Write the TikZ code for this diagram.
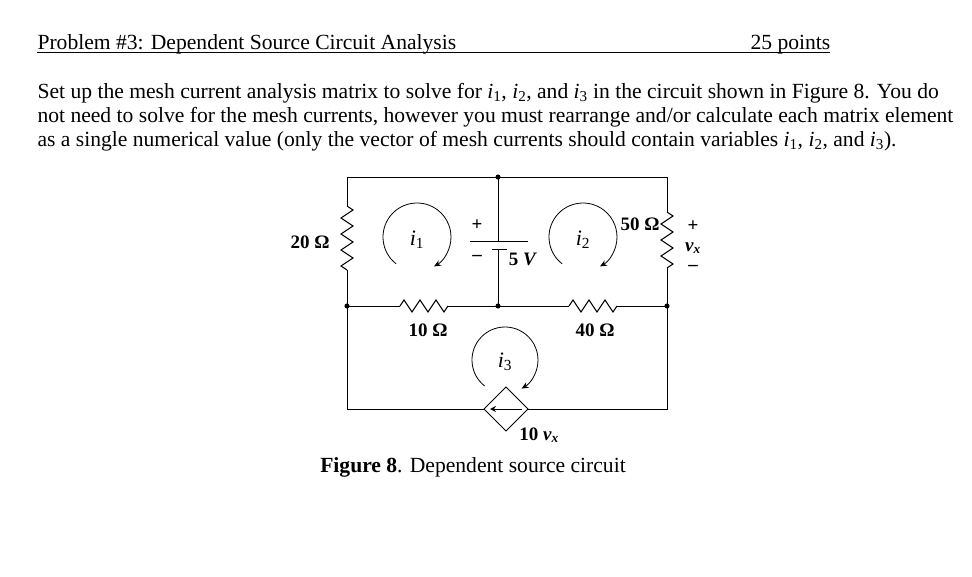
\documentclass[tikz,border=0pt]{standalone}
\usepackage{fontspec}
\setmainfont{Liberation Serif}
\usetikzlibrary{decorations.pathmorphing,arrows.meta}

\newcommand{\cur}[1]{\textit{i}\textsubscript{#1}}
\newcommand{\vxx}{\textit{v}\textsubscript{\textit{x}}}

\tikzset{
	res/.style={decorate, decoration={zigzag, segment length=16pt, amplitude=6pt}},
	lbl/.style={font=\bfseries\fontsize{19}{21}\selectfont},
	txt/.style={anchor=base west, inner sep=0pt, font=\fontsize{21.6}{24}\selectfont},
	loop/.style={-{Stealth[length=7pt,width=6pt]}, line width=0.8pt},
	dot/.style={circle, fill=black, inner sep=1.8pt},
	cl/.style={font=\fontsize{22}{24}\selectfont}
}

\begin{document}
\begin{tikzpicture}[x=1pt, y=-1pt, line width=1pt]
	\useasboundingbox (0,0) rectangle (972,576);

	% header and text
	\node[txt] (title) at (37,49) {Problem \#3: Dependent Source Circuit Analysis};
	\node[txt] (pts) at (750,49) {25 points};
	\draw[line width=0.7pt] (37,52) -- (830,52);
	\node[txt] (l1) at (37,98) {Set up the mesh current analysis matrix to solve for \cur{1}, \cur{2}, and \cur{3} in the circuit shown in Figure 8. You do};
	\node[txt] (l2) at (37,122) {not need to solve for the mesh currents, however you must rearrange and/or calculate each matrix element};
	\node[txt] (l3) at (37,146) {as a single numerical value (only the vector of mesh currents should contain variables \cur{1}, \cur{2}, and \cur{3}).};

	% nodes of the circuit
	\def \xl {347}
	\def \xm {498}
	\def \xr {667}
	\def \yt {177}
	\def \ym {306}
	\def \yb {409}

	\coordinate (tl) at (\xl,\yt);
	\coordinate (tm) at (\xm,\yt);
	\coordinate (tr) at (\xr,\yt);
	\coordinate (ml) at (\xl,\ym);
	\coordinate (mm) at (\xm,\ym);
	\coordinate (mr) at (\xr,\ym);
	\coordinate (bl) at (\xl,\yb);
	\coordinate (br) at (\xr,\yb);
	\coordinate (src) at (506,\yb);

	% outer wires and resistors
	\draw (ml) -- (\xl,270);
	\draw[res] (\xl,270) -- (\xl,206);
	\draw (\xl,206) -- (tl) -- (tr) -- (\xr,212);
	\draw[res] (\xr,212) -- (\xr,268);
	\draw (\xr,268) -- (mr);
	\draw (ml) -- (400,\ym);
	\draw[res] (400,\ym) -- (448,\ym);
	\draw (448,\ym) -- (569,\ym);
	\draw[res] (569,\ym) -- (617,\ym);
	\draw (617,\ym) -- (mr);
	\draw (ml) -- (bl) -- (484,\yb);
	\draw (528,\yb) -- (br) -- (mr);

	% battery
	\draw (tm) -- (\xm,241);
	\draw (470,241) -- (528,241);
	\draw (492,249) -- (507,249);
	\draw (\xm,249) -- (mm);

	% dependent source
	\draw (484,\yb) -- (506,387) -- (528,\yb) -- (506,431) -- cycle;
	\draw[-{Stealth[length=6pt,width=6pt]}] (522,\yb) -- (490,\yb);

	\node[dot] (d1) at (tm) {};
	\node[dot] (d2) at (ml) {};
	\node[dot] (d3) at (mm) {};
	\node[dot] (d4) at (mr) {};

	% mesh currents
	\draw[loop] (417,237) ++(128:34) arc (128:420:34);
	\draw[loop] (583,237) ++(128:34) arc (128:420:34);
	\draw[loop] (505,360) ++(128:33) arc (128:420:33);
	\node[cl] (i1) at (417,240) {\cur{1}};
	\node[cl] (i2) at (583,240) {\cur{2}};
	\node[cl] (i3) at (505,362) {\cur{3}};

	% labels
	\node[lbl] (r20) at (310,242) {20 Ω};
	\node[lbl] (r50) at (640,224) {50 Ω};
	\node[lbl] (r10) at (428,330) {10 Ω};
	\node[lbl] (r40) at (595,330) {40 Ω};
	\node[lbl] (bp) at (477,225) {+};
	\node[lbl] (bm) at (477,258) {–};
	\node[lbl] (bv) at (523,259) {5 \textit{V}};
	\node[lbl] (vp) at (693,226) {+};
	\node[lbl] (vx) at (693,248) {\vxx};
	\node[lbl] (vm) at (693,268) {–};
	\node[lbl] (gain) at (539,435) {10 \vxx};

	\node[font=\fontsize{21.6}{24}\selectfont] (cap) at (473,467) {\textbf{Figure 8}. Dependent source circuit};
\end{tikzpicture}
\end{document}
